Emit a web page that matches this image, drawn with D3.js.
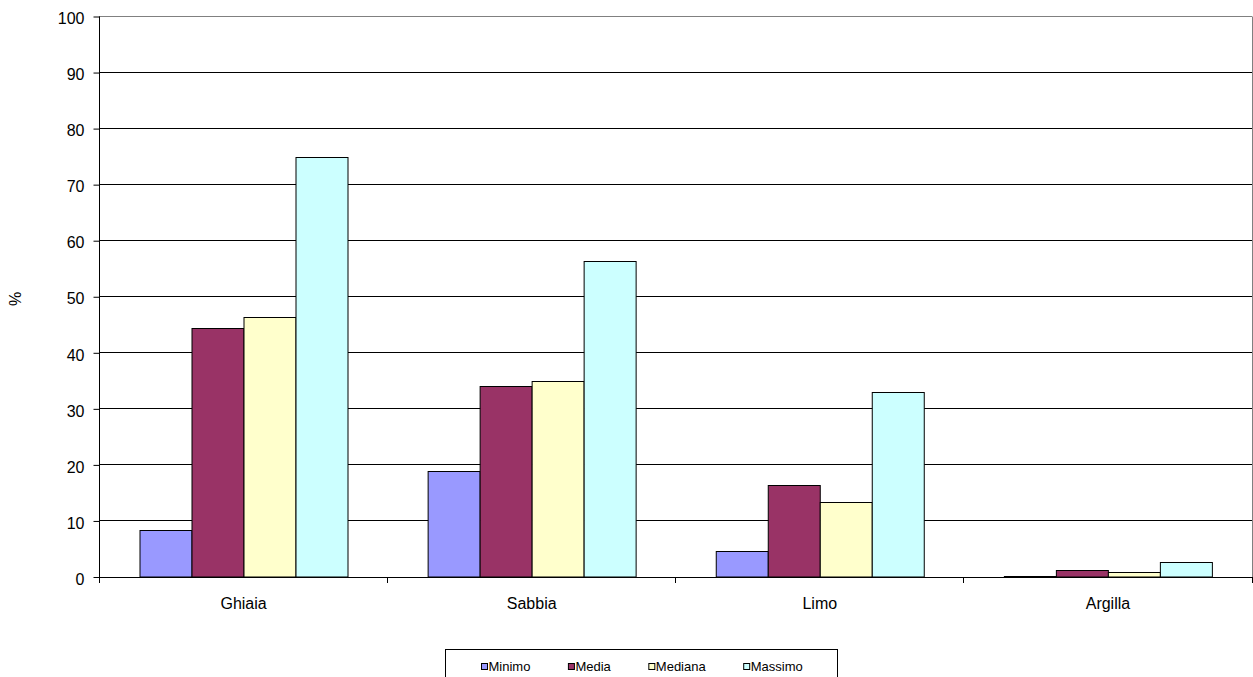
<!DOCTYPE html>
<html>
<head>
<meta charset="utf-8">
<script src="https://cdn.jsdelivr.net/npm/d3@7"></script>
<style>
  html, body { margin: 0; padding: 0; background: #fff; }
  svg { display: block; font-family: "Liberation Sans", Arial, sans-serif; }
</style>
</head>
<body>
<svg id="chart" width="1253" height="677"></svg>
<script>
const categories = ["Ghiaia", "Sabbia", "Limo", "Argilla"];
const seriesNames = ["Minimo", "Media", "Mediana", "Massimo"];
const minimo  = [8.3, 18.9, 4.7, 0.25];
const media   = [44.4, 34.1, 16.5, 1.2];
const mediana = [46.3, 35.0, 13.4, 0.9];
const massimo = [75.0, 56.3, 33.0, 2.6];
const yTicks = [0, 10, 20, 30, 40, 50, 60, 70, 80, 90, 100];
const colors = ["#9999FF", "#993366", "#FFFFCC", "#CCFFFF"];

const seriesValues = [minimo, media, mediana, massimo];

(function () {
const svg = d3.select("#chart");
const pLeft = 99.5, pRight = 1252, pTop = 16.5, pBottom = 577;

const x0 = d3.scaleBand().domain(categories).range([pLeft, pRight]).paddingInner(0).paddingOuter(0);
const x1 = d3.scaleBand().domain(seriesNames).range([0, x0.bandwidth()]).paddingInner(0).paddingOuter(0.765);
const y = d3.scaleLinear().domain([0, 100]).range([pBottom, pTop]);

const snap = v => Math.round(v - 0.5) + 0.5;

// gridlines
svg.append("g").selectAll("line").data(yTicks.filter(d => d > 0)).join("line")
  .attr("x1", pLeft).attr("x2", pRight)
  .attr("y1", d => snap(y(d))).attr("y2", d => snap(y(d)))
  .attr("stroke", "#000").attr("stroke-width", 1);

// plot border (gray) top and right
svg.append("line").attr("x1", pLeft).attr("x2", pRight).attr("y1", snap(pTop)).attr("y2", snap(pTop))
  .attr("stroke", "#808080");
svg.append("line").attr("x1", pRight + 0.5).attr("x2", pRight + 0.5).attr("y1", pTop).attr("y2", pBottom)
  .attr("stroke", "#808080");

// bars
const groups = svg.append("g").selectAll("g").data(categories).join("g")
  .attr("transform", d => `translate(${x0(d)},0)`);
groups.selectAll("rect")
  .data((c, i) => seriesNames.map((s, j) => ({ s, j, v: seriesValues[j][i] })))
  .join("rect")
  .attr("x", d => Math.round(x1(d.s)) + 0.5)
  .attr("width", d => Math.round(x1.bandwidth()))
  .attr("y", d => Math.round(y(d.v)) + 0.5)
  .attr("height", d => Math.max(0, pBottom - Math.round(y(d.v)) - 0.5))
  .attr("fill", d => colors[d.j])
  .attr("stroke", "#000").attr("stroke-width", 1);

// y axis
const yAxis = d3.axisLeft(y).tickValues(yTicks).tickSize(6).tickPadding(9).tickFormat(d3.format("d"));
const gy = svg.append("g").attr("transform", `translate(${pLeft},0)`).call(yAxis);
gy.select(".domain").attr("stroke", "#000").attr("d", `M0,${pTop}V${pBottom}`);
gy.selectAll(".tick line").attr("stroke", "#000");
gy.selectAll(".tick text").attr("font-size", 16).attr("font-family", "Liberation Sans, Arial, sans-serif")
  .attr("fill", "#000").attr("dy", "0.45em");

// x axis
const gx = svg.append("g").attr("transform", `translate(0,${pBottom})`);
gx.append("line").attr("x1", pLeft).attr("x2", pRight + 1).attr("y1", 0.5).attr("y2", 0.5).attr("stroke", "#000");
const boundaries = categories.map(c => x0(c)).concat([pRight]);
gx.selectAll("line.tk").data(boundaries).join("line").attr("class", "tk")
  .attr("x1", d => snap(d)).attr("x2", d => snap(d)).attr("y1", 0).attr("y2", 6).attr("stroke", "#000");
gx.selectAll("text").data(categories).join("text")
  .attr("x", d => x0(d) + x0.bandwidth() / 2).attr("y", 31.5)
  .attr("text-anchor", "middle").attr("font-size", 16).attr("fill", "#000").text(d => d);

// y label
svg.append("text").attr("transform", "translate(21,299) rotate(-90)")
  .attr("text-anchor", "middle").attr("font-size", 16).attr("fill", "#000").text("%");

// legend
const lg = svg.append("g");
lg.append("rect").attr("x", 445.5).attr("y", 649.5).attr("width", 392).attr("height", 40)
  .attr("fill", "#fff").attr("stroke", "#000");
let lx = 481;
seriesNames.forEach((s, j) => {
  lg.append("rect").attr("x", lx + 0.5).attr("y", 663.5).attr("width", 6).attr("height", 6)
    .attr("fill", colors[j]).attr("stroke", "#000");
  const t = lg.append("text").attr("x", lx + 7.5).attr("y", 670.5).attr("font-size", 13).attr("fill", "#000").text(s);
  lx = lx + 7.5 + t.node().getComputedTextLength() + 37.5;
});
})();
</script>
</body>
</html>
